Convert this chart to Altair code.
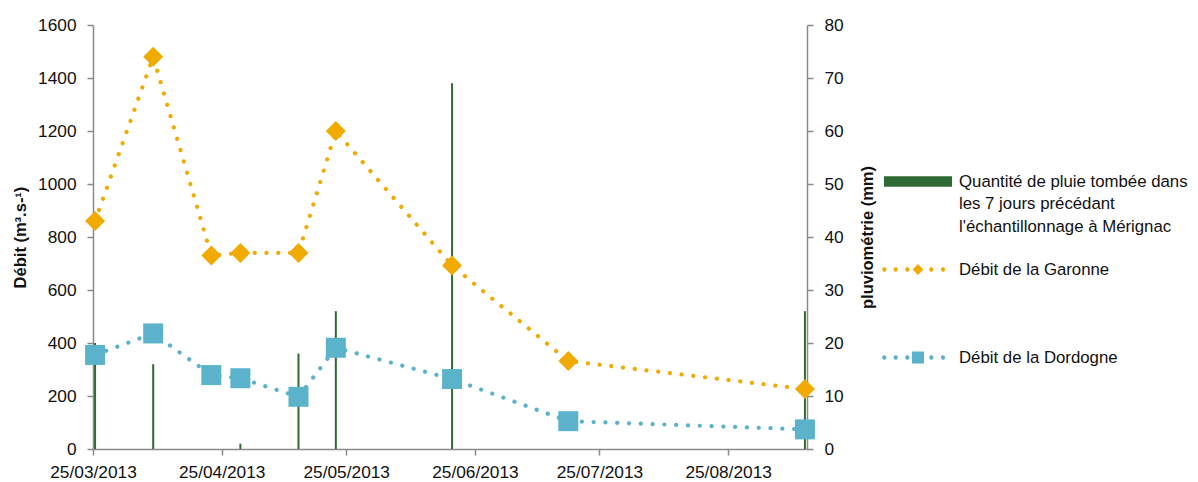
import altair as alt
import pandas as pd

# ---------------- data ----------------
dates = ["2013-03-25", "2013-04-08", "2013-04-22", "2013-04-29", "2013-05-13",
         "2013-05-22", "2013-06-19", "2013-07-17", "2013-09-12"]
garonne = [860, 1480, 730, 740, 740, 1200, 692, 332, 226]
dordogne = [355, 436, 279, 267, 197, 382, 264, 105, 74]
rain = [20, 16, 0, 1, 18, 26, 69, 0, 26]

series_names = [
    "Quantité de pluie tombée dans|les 7 jours précédant|l'échantillonnage à Mérignac",
    "Débit de la Garonne",
    "Débit de la Dordogne",
]
tick_months = [3, 4, 5, 6, 7, 8]
left_ticks = list(range(0, 1601, 200))
right_ticks = list(range(0, 81, 10))

# ---------------- styles ----------------
FONT = "Liberation Sans"
FS = 17.3
LFS = 16.8
TFS = 16.5
TEXT = "#111111"
GRAY = "#8a8a8a"
GREEN = "#2E6A33"
ORANGE = "#F0AA00"
BLUE = "#5BB3CB"
colors = [GREEN, ORANGE, BLUE]

W, H = 714, 424

# legend symbols as custom paths (1 unit = 34 px)
U = 34.0
def circ(cx, cy, r):
    cx, cy, r = cx / U, cy / U, r / U
    return (f"M{cx - r:.4f},{cy:.4f}a{r:.4f},{r:.4f} 0 1,0 {2*r:.4f},0"
            f"a{r:.4f},{r:.4f} 0 1,0 {-2*r:.4f},0Z")

dot_x = [-33.7, -22.3, -10.7, 13.3, 25.0]
dots = "".join(circ(x, 0, 2.1) for x in dot_x)
d = 5.4 / U
diamond_path = f"M{-d:.4f},0L0,{-d:.4f}L{d:.4f},0L0,{d:.4f}Z"
s = 6.0 / U
square_path = f"M{-s:.4f},{-s:.4f}H{s:.4f}V{s:.4f}H{-s:.4f}Z"
rh = 5.3 / U
rect_path = f"M-1,{-rh:.4f}H1V{rh:.4f}H-1Z"
shape_paths = [rect_path, dots + diamond_path, dots + square_path]

df = pd.DataFrame({
    "date": [x + "T12:00:00" for x in dates],
    "garonne": garonne,
    "dordogne": dordogne,
    "rain": rain,
})

x_enc = alt.X(
    "date:T",
    scale=alt.Scale(domain=[alt.DateTime(year=2013, month=3, date=25),
                            alt.DateTime(year=2013, month=9, date=13)]),
    axis=alt.Axis(values=[alt.DateTime(year=2013, month=m, date=25) for m in tick_months],
                  format="%d/%m/%Y", title=None, labelPadding=8, labelOverlap=False,
                  labelFlush=False),
)

left_scale = alt.Scale(domain=[0, 1600], nice=False)
left_axis = alt.Axis(orient="left", values=left_ticks, format="d", title="Débit (m³.s-¹)",
                     titleAngle=270, titleX=-73, titleY=H / 2, titleBaseline="middle",
                     titleAlign="center", labelPadding=11)
right_axis = alt.Axis(orient="right", values=right_ticks, format="d",
                      title="pluviométrie (mm)",
                      titleAngle=270, titleX=60, titleY=H / 2, titleBaseline="middle",
                      titleAlign="center", labelPadding=11)

base = alt.Chart(df)

bars = base.mark_rule(strokeWidth=2, color=GREEN).encode(
    x=x_enc,
    y=alt.Y("rain:Q", scale=alt.Scale(domain=[0, 80], nice=False), axis=right_axis),
    y2=alt.datum(0),
)

line_style = dict(interpolate="linear", strokeDash=[0.1, 11.7], strokeCap="round",
                  strokeJoin="round", strokeWidth=4.2)

g_line = base.mark_line(color=ORANGE, **line_style).encode(
    x=x_enc, y=alt.Y("garonne:Q", scale=left_scale, axis=left_axis))
d_line = base.mark_line(color=BLUE, **line_style).encode(
    x=x_enc, y=alt.Y("dordogne:Q", scale=left_scale, axis=left_axis))
g_pts = base.mark_point(shape="diamond", filled=True, size=400, opacity=1,
                        color=ORANGE).encode(
    x=x_enc, y=alt.Y("garonne:Q", scale=left_scale, axis=left_axis))
d_pts = base.mark_point(shape="square", filled=True, size=400, opacity=1,
                        color=BLUE).encode(
    x=x_enc, y=alt.Y("dordogne:Q", scale=left_scale, axis=left_axis))

legend = alt.Legend(title=None, orient="none", legendX=791, legendY=122.5,
                    symbolSize=4624, symbolStrokeWidth=0, labelOffset=7,
                    labelExpr="split(datum.label, '|')", labelBaseline="middle",
                    gridAlign="all", rowPadding=0, padding=0, labelLimit=400)

leg_layer = alt.Chart(pd.DataFrame({"series": series_names})).transform_filter(
    "false").mark_point(filled=True, opacity=1, size=4624).encode(
    color=alt.Color("series:N", scale=alt.Scale(domain=series_names, range=colors),
                    legend=legend),
    shape=alt.Shape("series:N", scale=alt.Scale(domain=series_names, range=shape_paths),
                    legend=legend),
)

flows = alt.layer(g_line, d_line, g_pts, d_pts, leg_layer)

chart = alt.layer(bars, flows).resolve_scale(y="independent").properties(
    width=W, height=H,
    padding={"left": 85, "top": 17, "right": 383, "bottom": 33},
    autosize=alt.AutoSizeParams(type="none"),
).configure(
    style={"guide-label": {"lineHeight": 22.5}}
).configure_view(stroke=None).configure_axis(
    labelFont=FONT, labelFontSize=FS, labelColor=TEXT,
    titleFont=FONT, titleFontSize=TFS, titleFontWeight="bold", titleColor=TEXT,
    domainColor=GRAY, domainWidth=1.5, tickColor=GRAY, tickWidth=1.5, tickSize=6,
    grid=False,
).configure_legend(
    labelFont=FONT, labelFontSize=LFS, labelColor=TEXT,
)

chart.save("out.html", embed_options={"renderer": "svg", "actions": False})
